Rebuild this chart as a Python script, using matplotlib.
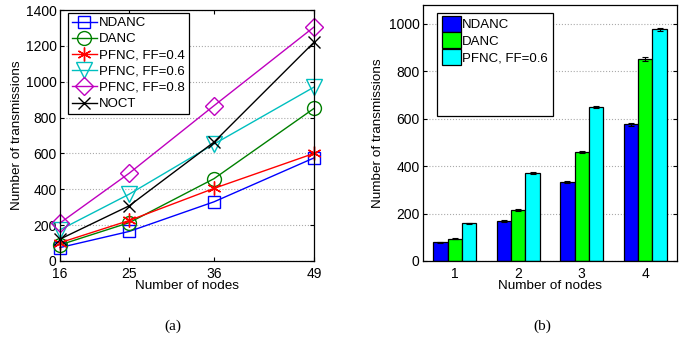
import numpy as np
import matplotlib
matplotlib.use("Agg")
import matplotlib.pyplot as plt
from matplotlib.patches import Rectangle

plt.rcParams['font.family'] = ['Liberation Sans', 'DejaVu Sans']

# (a) line chart data
nodes = [16, 25, 36, 49]
ndanc = [75, 165, 330, 575]
danc = [90, 214, 459, 851]
pfnc_04 = [102, 226, 405, 600]
pfnc_06 = [174, 373, 652, 970]
pfnc_08 = [212, 490, 866, 1305]
noct = [122, 308, 663, 1220]

# (b) bar chart data
groups = [1, 2, 3, 4]
bar_ndanc = [78, 168, 334, 576]
bar_danc = [94, 215, 459, 849]
bar_pfnc = [159, 369, 649, 975]
err_ndanc = [2, 3, 4, 6]
err_danc = [2, 3, 5, 8]
err_pfnc = [3, 4, 5, 5]

W, H = 691, 337
fig = plt.figure(figsize=(W / 100, H / 100), dpi=100)


def style_axes(ax):
    ax.tick_params(direction='in', top=True, right=True, labelsize=10,
                   length=3, width=0.8, pad=2.5)
    ax.tick_params(axis='x', pad=4.5)
    for s in ax.spines.values():
        s.set_linewidth(0.9)
    ax.yaxis.grid(True, linestyle=':', color='#aaaaaa', linewidth=0.8)
    ax.set_axisbelow(True)


# ---- (a) ----
ax1 = fig.add_axes([60 / W, (H - 261) / H, 254 / W, 251 / H])
asterisk = (6, 2, 0)
series = [
    (ndanc, 'NDANC', '#0000FF', 's', 8.5),
    (danc, 'DANC', '#008000', 'o', 10),
    (pfnc_04, 'PFNC, FF=0.4', '#FF0000', asterisk, 10),
    (pfnc_06, 'PFNC, FF=0.6', '#00BFBF', 'v', 11),
    (pfnc_08, 'PFNC, FF=0.8', '#BF00BF', 'D', 9.5),
    (noct, 'NOCT', '#000000', 'x', 8.5),
]
for vals, lab, col, mk, ms in series:
    ax1.plot(nodes, vals, color=col, marker=mk, markersize=ms,
             markerfacecolor='none', markeredgecolor=col,
             markeredgewidth=1.0, linewidth=1.0, label=lab, clip_on=False)
ax1.set_xlim(16, 49)
ax1.set_ylim(0, 1400)
ax1.set_xticks(nodes)
ax1.set_yticks(range(0, 1401, 200))
style_axes(ax1)
ax1.set_xlabel('Number of nodes', fontsize=9.7, labelpad=-1)
ax1.set_ylabel('Number of transmissions', fontsize=9.7, labelpad=1.5)
leg1 = ax1.legend(loc='upper left', bbox_to_anchor=(8 / 254, 1 - 3 / 251),
                  fontsize=9.5, handlelength=1.9, handletextpad=0.15,
                  labelspacing=0.3, borderpad=0.3, borderaxespad=0,
                  fancybox=False, edgecolor='black', framealpha=1)
leg1.get_frame().set_linewidth(0.9)

# ---- (b) ----
ax2 = fig.add_axes([423 / W, (H - 261) / H, 254 / W, 256 / H])
x = np.array(groups)
bw = 0.225
bar_sets = [
    (bar_ndanc, err_ndanc, 'NDANC', '#0000FF', -bw),
    (bar_danc, err_danc, 'DANC', '#00FF00', 0),
    (bar_pfnc, err_pfnc, 'PFNC, FF=0.6', '#00FFFF', bw),
]
handles = []
for vals, errs, lab, col, off in bar_sets:
    b = ax2.bar(x + off, vals, width=bw, color=col, edgecolor='black',
                linewidth=0.9, label=lab, zorder=2)
    ax2.errorbar(x + off, vals, yerr=errs, fmt='none', ecolor='black',
                 elinewidth=0.8, capsize=2, capthick=0.8, zorder=3)
    handles.append(b)
ax2.set_xlim(0.5, 4.5)
ax2.set_ylim(0, 1078)
ax2.set_xticks(groups)
ax2.set_yticks(range(0, 1001, 200))
style_axes(ax2)
ax2.tick_params(axis='x', length=0)
ax2.set_xlabel('Number of nodes', fontsize=9.7, labelpad=-1)
ax2.set_ylabel('Number of transmissions', fontsize=9.7, labelpad=3.5)
# legend frame is taller than its entries in the original
ax2.add_patch(Rectangle((14 / 254, 1 - 111 / 256), 116 / 254, 103 / 256,
                        transform=ax2.transAxes, facecolor='white',
                        edgecolor='black', linewidth=0.9, zorder=4))
leg2 = ax2.legend(handles=handles, loc='upper left',
                  bbox_to_anchor=(16 / 254, 1 - 8 / 256), fontsize=9.5,
                  handlelength=1.45, handleheight=1.5, handletextpad=0.1,
                  labelspacing=0.05, borderpad=0.2, borderaxespad=0,
                  frameon=False)
leg2.set_zorder(5)

# captions
fig.text(173 / W, 1 - 326 / H, '(a)', family=['Liberation Serif'],
         fontsize=11, ha='center', va='center')
fig.text(542 / W, 1 - 326 / H, '(b)', family=['Liberation Serif'],
         fontsize=11, ha='center', va='center')

fig.savefig('out.png', dpi=100)
